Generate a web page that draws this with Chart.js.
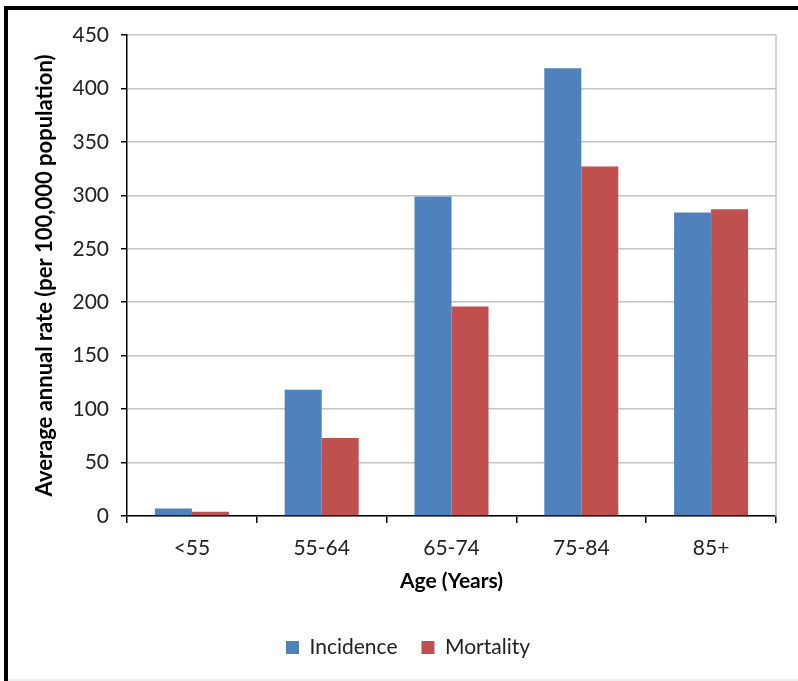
<!DOCTYPE html>
<html>
<head>
<meta charset="utf-8">
<script src="https://cdn.jsdelivr.net/npm/chart.js@4"></script>
<style>
  html,body{margin:0;padding:0;background:#fff;}
  #wrap{position:absolute;left:0;top:0;width:798px;height:681px;}
  #frame{position:absolute;left:4px;top:6px;width:794px;height:675px;border-left:4px solid #000;border-top:4px solid #000;box-sizing:border-box;pointer-events:none;}
  #bot{position:absolute;left:8px;top:679px;width:790px;height:2px;background:#eee;}
  canvas{position:absolute;left:0;top:0;}
</style>
</head>
<body>
<div id="wrap">
  <canvas id="c" width="798" height="681"></canvas>
  <div id="frame"></div>
  <div id="bot"></div>
</div>
<script>
const categories = ["<55", "55-64", "65-74", "75-84", "85+"];
const incidence = [7, 118, 299, 419, 284];
const mortality = [4, 73, 196, 327, 287];
const seriesNames = ["Incidence", "Mortality"];
const yTitle = "Average annual rate (per 100,000 population)";
const xTitle = "Age (Years)";

const FONT = "Lato, 'Open Sans', sans-serif";
const gridGray = '#c4c4c4';

new Chart(document.getElementById('c'), {
  type: 'bar',
  data: {
    labels: categories,
    datasets: [
      {label: seriesNames[0], data: incidence, backgroundColor: '#4F81BD', borderWidth: 0,
       categoryPercentage: 0.57, barPercentage: 1.0},
      {label: seriesNames[1], data: mortality, backgroundColor: '#C0504D', borderWidth: 0,
       categoryPercentage: 0.57, barPercentage: 1.0}
    ]
  },
  options: {
    responsive: false,
    animation: false,
    devicePixelRatio: 1,
    layout: {padding: {left: 20, right: 22, top: 35, bottom: 13}},
    plugins: {
      tooltip: {enabled: false},
      legend: {
        position: 'bottom',
        labels: {
          font: {family: FONT, size: 21},
          color: '#222',
          boxWidth: 13, boxHeight: 13,
          padding: 24
        }
      }
    },
    scales: {
      x: {
        grid: {
          offset: true,
          color: (ctx) => ctx.index === categories.length ? gridGray : 'rgba(0,0,0,0)',
          tickColor: '#000',
          tickLength: 7,
          lineWidth: 1.5
        },
        border: {color: '#000', width: 1.5},
        ticks: {font: {family: FONT, size: 21}, color: '#222', padding: 13},
        title: {display: true, text: xTitle, font: {family: FONT, size: 21, weight: 'bold'}, color: '#000',
                padding: {top: 10, bottom: 19}},
        afterFit: (s) => { s.height = 97; }
      },
      y: {
        min: 0, max: 450,
        ticks: {stepSize: 50, font: {family: FONT, size: 21}, color: '#222', padding: 12},
        grid: {color: gridGray, lineWidth: 1.5, tickColor: '#000', tickLength: 6},
        border: {color: '#000', width: 1.5},
        title: {display: true, text: yTitle, font: {family: FONT, size: 22, weight: 'bold'}, color: '#000',
                padding: {top: 12, bottom: 10}},
        afterFit: (s) => { s.width = 107; }
      }
    }
  },
  plugins: [{
    id: 'rightEdge',
    afterLayout(chart) {
      if (chart.legend) { chart.legend.left += 10; chart.legend.right += 10; }
    },
    afterDraw(chart) {
      const a = chart.chartArea, ctx = chart.ctx;
      ctx.save();
      ctx.strokeStyle = gridGray; ctx.lineWidth = 1.5;
      ctx.beginPath(); ctx.moveTo(a.right, a.top); ctx.lineTo(a.right, a.bottom); ctx.stroke();
      ctx.restore();
    }
  }]
});
</script>
</body>
</html>
